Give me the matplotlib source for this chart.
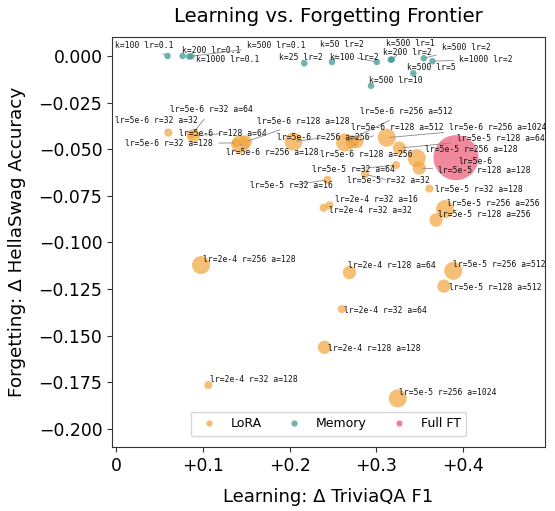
import matplotlib
matplotlib.use('Agg')
import matplotlib.pyplot as plt
from matplotlib.lines import Line2D
from matplotlib.ticker import FuncFormatter
import numpy as np

# Memory runs
mem_labels = ['k=100 lr=0.1', 'k=200 lr=0.1', 'k=500 lr=0.1', 'k=1000 lr=0.1',
              'k=25 lr=2', 'k=50 lr=2', 'k=100 lr=2', 'k=200 lr=2', 'k=500 lr=1',
              'k=500 lr=2', 'k=1000 lr=2', 'k=500 lr=5', 'k=500 lr=10']
mem_learn = [0.059, 0.0765, 0.084, 0.0865, 0.217, 0.249, 0.3007, 0.3168, 0.318,
             0.355, 0.365, 0.343, 0.294]
mem_forget = [0.000, 0.000, -0.0003, -0.0002, -0.0039, -0.0032, -0.0032, -0.002,
              -0.0019, -0.0012, -0.0028, -0.0093, -0.016]

# LoRA runs
lora_lr = ['5e-6', '5e-6', '5e-6', '5e-6', '5e-6', '5e-6', '5e-6', '5e-6', '5e-6',
           '5e-6', '5e-6', '5e-5', '5e-5', '5e-5', '5e-5', '5e-5', '5e-5', '5e-5',
           '2e-4', '2e-4', '5e-5', '5e-5', '2e-4', '2e-4', '5e-5', '5e-5', '2e-4',
           '2e-4', '2e-4', '5e-5']
lora_rank = [32, 32, 128, 32, 128, 256, 256, 128, 256, 128, 256, 128, 256, 128, 32,
             32, 32, 32, 32, 32, 256, 128, 256, 128, 256, 128, 32, 128, 32, 256]
lora_alpha = [32, 64, 64, 128, 128, 128, 256, 256, 512, 512, 1024, 64, 128, 128, 64,
              32, 16, 128, 16, 32, 256, 256, 128, 64, 512, 512, 64, 128, 128, 1024]
lora_learn = [0.060, 0.0865, 0.0888, 0.1384, 0.1488, 0.143, 0.2045, 0.2722, 0.2641,
              0.2776, 0.3122, 0.3268, 0.3468, 0.3498, 0.323, 0.2872, 0.2437, 0.3614,
              0.246, 0.2393, 0.3795, 0.3691, 0.0977, 0.2691, 0.389, 0.3783, 0.2603,
              0.2403, 0.1061, 0.3249]
lora_forget = [-0.0411, -0.0423, -0.0428, -0.0466, -0.0461, -0.0473, -0.0459, -0.0461,
               -0.0464, -0.0459, -0.0438, -0.0494, -0.0548, -0.0601, -0.0585, -0.0634,
               -0.0664, -0.0711, -0.0801, -0.0814, -0.0821, -0.0880, -0.1121, -0.1161,
               -0.1152, -0.1234, -0.1357, -0.1562, -0.1764, -0.1836]

# Full fine-tuning
ft_labels = ['lr=5e-6']
ft_learn = [0.3922]
ft_forget = [-0.0545]

# where the text labels sit (left edge, vertical centre), in data units
mem_text_pos = [(-0.0012, 0.0057), (0.0758, 0.0032), (0.1507, 0.0057), (0.0923, -0.0018),
                (0.1872, -0.0009), (0.2353, 0.0059), (0.2468, -0.0009), (0.3076, 0.0016),
                (0.3114, 0.0066), (0.3757, 0.0044), (0.396, -0.0018), (0.336, -0.0063),
                (0.2922, -0.0129)]
lora_text_pos = [(-0.0012, -0.0348), (0.0623, -0.0289), (0.0719, -0.0416), (0.0104, -0.047),
                 (0.1623, -0.0352), (0.1269, -0.0518), (0.1853, -0.0438), (0.2353, -0.0527),
                 (0.2814, -0.030), (0.2707, -0.0384), (0.3844, -0.0384), (0.393, -0.0441),
                 (0.3564, -0.050), (0.3717, -0.0616), (0.2257, -0.0607), (0.2661, -0.0666),
                 (0.1546, -0.0693), (0.3679, -0.0718), (0.2526, -0.0768), (0.246, -0.0826),
                 (0.3814, -0.0791), (0.3717, -0.0852), (0.100, -0.1093), (0.2679, -0.1125),
                 (0.3884, -0.1118), (0.3844, -0.1241), (0.263, -0.1362), (0.2442, -0.1566),
                 (0.1084, -0.1734), (0.3268, -0.1805)]
ft_text_pos = [(0.3948, -0.0568)]

c_lora = '#F2A43A'
c_mem = '#3E9A96'
c_ft = '#EC5673'

fig = plt.figure(figsize=(5.55, 5.11), dpi=100)
ax = fig.add_axes([0.202, 0.1247, 0.780, 0.803])

lora_sizes = [15 + 0.6 * r for r in lora_rank]
ax.scatter(lora_learn, lora_forget, s=lora_sizes, color=c_lora, alpha=0.7, edgecolors='none', zorder=2)
ax.scatter(mem_learn, mem_forget, s=22, color=c_mem, alpha=0.75, edgecolors='none', zorder=2)
ax.scatter(ft_learn, ft_forget, s=1050, color=c_ft, alpha=0.7, edgecolors='none', zorder=2)

ax.set_xlim(-0.005, 0.495)
ax.set_ylim(-0.2098, 0.0102)

lora_labels = [f'lr={l} r={r} a={a}' for l, r, a in zip(lora_lr, lora_rank, lora_alpha)]
all_labels = mem_labels + lora_labels + ft_labels
all_x = mem_learn + lora_learn + ft_learn
all_y = mem_forget + lora_forget + ft_forget
all_pos = mem_text_pos + lora_text_pos + ft_text_pos

fig.canvas.draw()
for lab, x, y, (tx, ty) in zip(all_labels, all_x, all_y, all_pos):
    p = ax.transData.transform((x, y))
    t = ax.transData.transform((tx, ty))
    far = np.hypot(*(p - t)) > 14
    ax.annotate(lab, xy=(x, y), xytext=(tx, ty), ha='left', va='center',
                fontsize=5.8, family='DejaVu Sans Mono', color='#111111', zorder=3,
                arrowprops=dict(arrowstyle='-', color='#888888', lw=0.6) if far else None)

ax.set_xticks([0, 0.1, 0.2, 0.3, 0.4])
ax.xaxis.set_major_formatter(FuncFormatter(lambda v, _: '0' if abs(v) < 1e-9 else f'+{v:.1f}'))
ax.set_yticks(np.arange(-0.2, 0.001, 0.025))
ax.yaxis.set_major_formatter(FuncFormatter(lambda v, _: f'{v:.3f}'.replace('-', '\u2212') if abs(v) > 1e-9 else '0.000'))
ax.tick_params(labelsize=12.4, color='#333333')
for sp in ax.spines.values():
    sp.set_color('#333333')

ax.set_xlabel('Learning: \u0394 TriviaQA F1', fontsize=13, labelpad=9)
ax.set_ylabel('Forgetting: \u0394 HellaSwag Accuracy', fontsize=13.2, labelpad=9)
ax.set_title('Learning vs. Forgetting Frontier', fontsize=14.2, pad=11)

handles = [Line2D([], [], marker='o', ls='none', color=c, alpha=0.75, markersize=4.5, markeredgewidth=0)
           for c in (c_lora, c_mem, c_ft)]
ax.legend(handles, ['LoRA', 'Memory', 'Full FT'], loc='lower center', bbox_to_anchor=(0.5, 0.012),
          ncol=3, fontsize=9, columnspacing=1.6, handletextpad=0.74, borderpad=0.45)

fig.savefig('out.png', dpi=100)
